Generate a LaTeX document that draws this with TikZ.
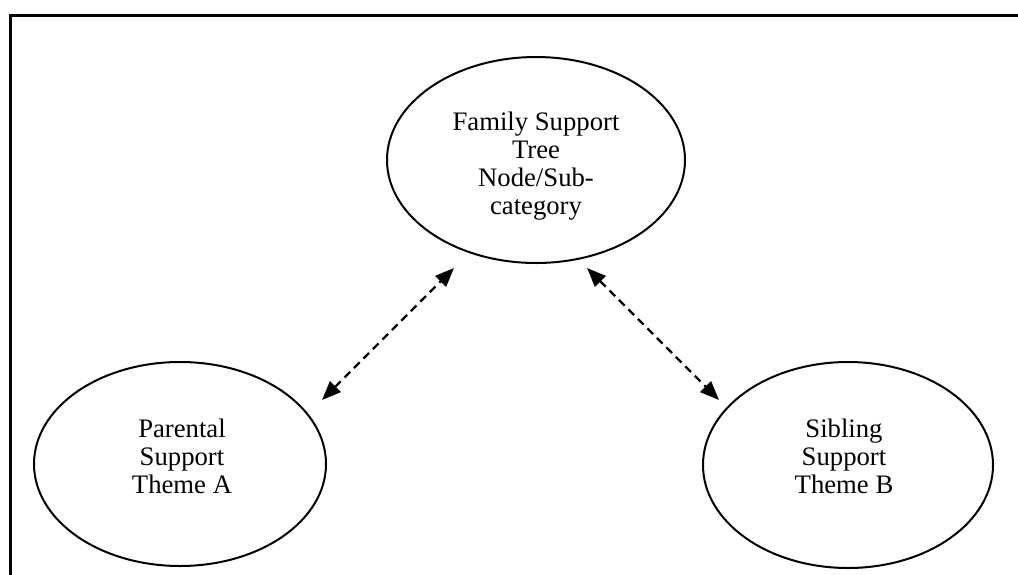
\documentclass[tikz,border=0pt]{standalone}
\usepackage{fontspec}
\setmainfont{Liberation Serif}
\usetikzlibrary{shapes.geometric,arrows.meta}
\begin{document}
\begin{tikzpicture}[x=0.5pt,y=-0.5pt,
  bubble/.style={draw, ellipse, line width=1pt, inner sep=0pt},
  btext/.style={inner sep=0pt, anchor=base, font=\fontsize{13.35pt}{14pt}\selectfont},
  link/.style={line width=1.15pt, dash pattern=on 4pt off 2.7pt,
    {Triangle[length=9.5pt,width=7.5pt]}-{Triangle[length=9.5pt,width=7.5pt]}}
]
\useasboundingbox (0,0) rectangle (1018,574);
\begin{scope}
  \clip (0,0) rectangle (1018,574);
  \draw[line width=1.3pt] (10.5,620) -- (10.5,15.3) -- (1060,15.3);
\end{scope}
% ellipses
\node[bubble, minimum width=149pt, minimum height=103pt] (top) at (536,160) {};
\node[bubble, minimum width=146pt, minimum height=102pt] (left) at (180,464) {};
\node[bubble, minimum width=145pt, minimum height=103pt] (right) at (848,465) {};
% texts
\node[btext] (toptext) at (536,214) {\begin{tabular}[b]{@{}c@{}}Family Support\\Tree\\Node/Sub-\\category\end{tabular}};
\node[btext] (lefttext) at (182,493) {\begin{tabular}[b]{@{}c@{}}Parental\\Support\\Theme A\end{tabular}};
\node[btext] (righttext) at (844,493) {\begin{tabular}[b]{@{}c@{}}Sibling\\Support\\Theme B\end{tabular}};
% connector ends
\coordinate (la) at (322,400);
\coordinate (lb) at (454,268);
\coordinate (ra) at (587,268);
\coordinate (rb) at (719,400);
\draw[link] (la) -- (lb);
\draw[link] (ra) -- (rb);
\end{tikzpicture}
\end{document}
